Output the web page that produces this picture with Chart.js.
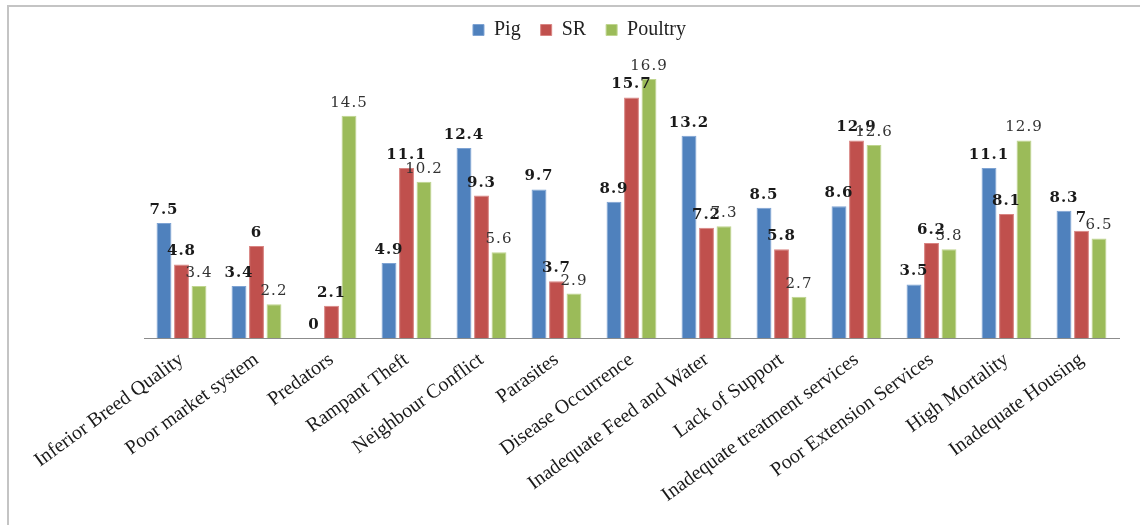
<!DOCTYPE html>
<html>
<head>
<meta charset="utf-8">
<script src="https://cdn.jsdelivr.net/npm/chart.js@4.4.1/dist/chart.umd.min.js"></script>
<style>
    html, body { margin: 0; padding: 0; background: #fff; }
    #wrap { position: relative; width: 1140px; height: 525px; }
    #frame { position: absolute; left: 7px; top: 5px; right: 0; bottom: 0; border-top: 2px solid #c4c4c4; border-left: 2px solid #c4c4c4; }
    #chart { position: absolute; left: 0; top: 0; }
</style>
</head>
<body>
<div id="wrap">
    <div id="frame"></div>
    <canvas id="chart" width="1140" height="525"></canvas>
</div>
<script>
    // data
    var categories = ['Inferior Breed Quality', 'Poor market system', 'Predators', 'Rampant Theft', 'Neighbour Conflict',
        'Parasites', 'Disease Occurrence', 'Inadequate Feed and Water', 'Lack of Support',
        'Inadequate treatment services', 'Poor Extension Services', 'High Mortality', 'Inadequate Housing'];
    var pigValues = [7.5, 3.4, 0, 4.9, 12.4, 9.7, 8.9, 13.2, 8.5, 8.6, 3.5, 11.1, 8.3];
    var srValues = [4.8, 6, 2.1, 11.1, 9.3, 3.7, 15.7, 7.2, 5.8, 12.9, 6.2, 8.1, 7];
    var poultryValues = [3.4, 2.2, 14.5, 10.2, 5.6, 2.9, 16.9, 7.3, 2.7, 12.6, 5.8, 12.9, 6.5];
    var seriesNames = ['Pig', 'SR', 'Poultry'];

    var serif = '"Liberation Serif", "DejaVu Serif", serif';
    var labelSerif = '"DejaVu Serif", "Liberation Serif", serif';

    // value labels above each bar (Pig and SR bold, Poultry plain)
    var valueLabels = {
        id: 'valueLabels',
        afterDatasetsDraw: function(chart) {
            var ctx = chart.ctx;
            ctx.save();
            ctx.textAlign = 'center';
            ctx.textBaseline = 'alphabetic';
            if ('letterSpacing' in ctx) ctx.letterSpacing = '1px';
            chart.data.datasets.forEach(function(ds, i) {
                var meta = chart.getDatasetMeta(i);
                var bold = i < 2;
                ctx.font = (bold ? 'bold ' : '') + '15px ' + labelSerif;
                ctx.fillStyle = bold ? '#1a1a1a' : '#333';
                meta.data.forEach(function(bar, j) {
                    ctx.fillText(String(ds.data[j]), bar.x, bar.y - 9);
                });
            });
            ctx.restore();
        }
    };

    new Chart(document.getElementById('chart'), {
        type: 'bar',
        data: {
            labels: categories,
            datasets: [
                { label: seriesNames[0], data: pigValues, backgroundColor: '#4f81bd', borderColor: '#7ea3d3', borderWidth: 1 },
                { label: seriesNames[1], data: srValues, backgroundColor: '#c0504d', borderColor: '#d98482', borderWidth: 1 },
                { label: seriesNames[2], data: poultryValues, backgroundColor: '#9bbb59', borderColor: '#bfd58f', borderWidth: 1 }
            ]
        },
        options: {
            responsive: false,
            animation: false,
            layout: { padding: { left: 40, right: 21, top: 0, bottom: 0 } },
            datasets: { bar: { categoryPercentage: 0.7, barPercentage: 0.85 } },
            plugins: {
                legend: {
                    position: 'top',
                    labels: {
                        font: { family: serif, size: 20 },
                        color: '#222',
                        boxWidth: 11,
                        boxHeight: 11,
                        padding: 20
                    }
                },
                tooltip: { enabled: false }
            },
            scales: {
                x: {
                    grid: { display: false },
                    border: { display: true, color: '#8c8c8c', width: 1 },
                    ticks: {
                        color: '#1a1a1a',
                        font: { family: serif, size: 20 },
                        minRotation: 36,
                        maxRotation: 36,
                        autoSkip: false,
                        padding: 2
                    },
                    afterFit: function(scale) { scale.height = 187; }
                },
                y: {
                    display: true,
                    min: 0,
                    max: 18.8,
                    grid: { display: false },
                    border: { display: false },
                    ticks: { display: false },
                    afterFit: function(scale) { scale.width = 104; }
                }
            }
        },
        plugins: [valueLabels]
    });
</script>
</body>
</html>
